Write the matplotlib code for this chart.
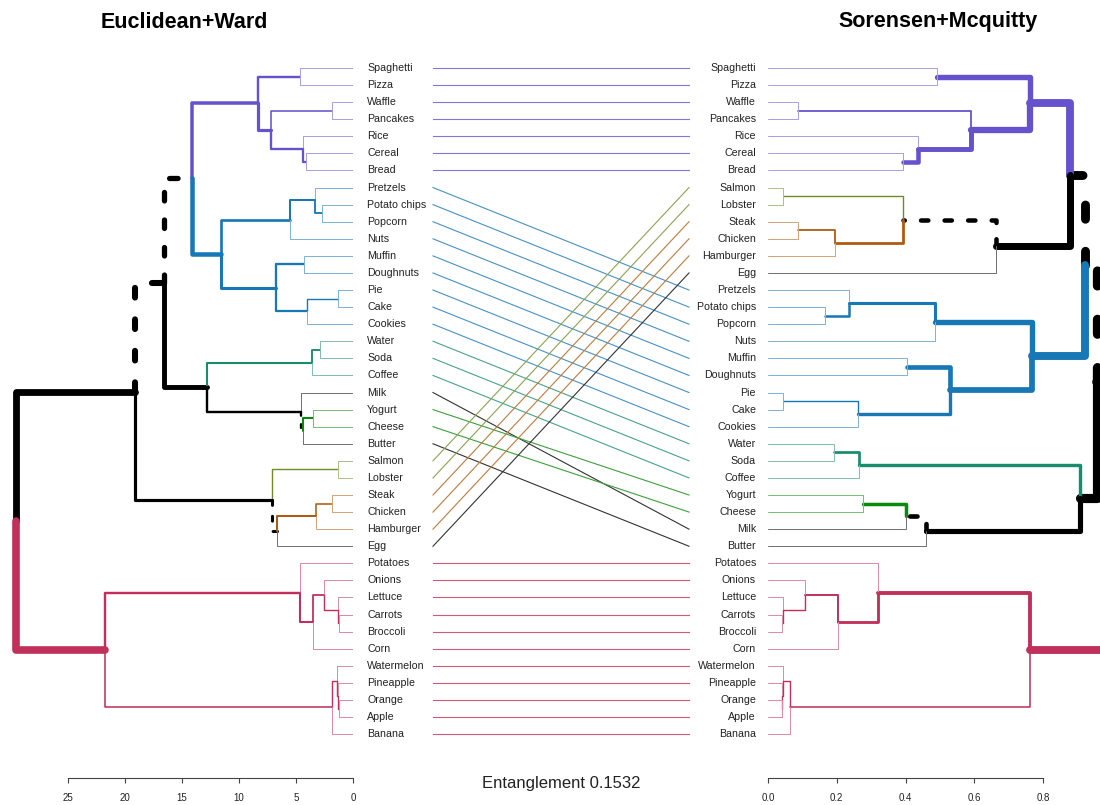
import matplotlib.pyplot as plt
from matplotlib.colors import to_rgb

plt.rcParams['font.family'] = ['Liberation Sans', 'DejaVu Sans']

# common subtrees and their colours
purple = ["Spaghetti", "Pizza", "Waffle", "Pancakes", "Rice", "Cereal", "Bread"]
blue = ["Pretzels", "Potato chips", "Popcorn", "Nuts", "Muffin", "Doughnuts",
        "Pie", "Cake", "Cookies"]
teal = ["Water", "Soda", "Coffee"]
green = ["Yogurt", "Cheese"]
olive = ["Salmon", "Lobster"]
brown = ["Steak", "Chicken", "Hamburger"]
pink = ["Potatoes", "Onions", "Lettuce", "Carrots", "Broccoli", "Corn",
        "Watermelon", "Pineapple", "Orange", "Apple", "Banana"]
cluster_colors = [(purple, '#6652cc'), (blue, '#1877b5'), (teal, '#1a8c6e'),
                  (green, '#0a8a0a'), (olive, '#6e8c28'), (brown, '#ad5b0e'),
                  (pink, '#c0305a')]

# left tree (Euclidean + Ward): (height, child, child)
purple_L = (8.3, (4.65, "Spaghetti", "Pizza"),
            (7.19, (1.87, "Waffle", "Pancakes"), (4.41, "Rice", (4.12, "Cereal", "Bread"))))
blue_L = (11.6, (5.5, (3.36, "Pretzels", (2.72, "Potato chips", "Popcorn")), "Nuts"),
          (6.75, (4.27, "Muffin", "Doughnuts"), (4.06, (1.29, "Pie", "Cake"), "Cookies")))
drink_L = (3.57, (2.9, "Water", "Soda"), "Coffee")
dairy_L = (4.56, "Milk", (4.41, (3.48, "Yogurt", "Cheese"), "Butter"))
meat_L = (7.07, (1.29, "Salmon", "Lobster"),
          (6.7, (3.25, (1.87, "Steak", "Chicken"), "Hamburger"), "Egg"))
veg_L = (4.65, "Potatoes",
         (3.48, (2.54, "Onions", (1.35, "Lettuce", (1.25, "Carrots", "Broccoli"))), "Corn"))
fruit_L = (1.81, (1.36, "Watermelon", (1.28, "Pineapple", (1.2, "Orange", "Apple"))), "Banana")
left_tree = (29.56, (19.1, (16.6, (14.1, purple_L, blue_L), (12.8, drink_L, dairy_L)), meat_L),
             (21.75, veg_L, fruit_L))

# right tree (Sorensen + Mcquitty)
purple_R = (0.761, (0.491, "Spaghetti", "Pizza"),
            (0.589, (0.087, "Waffle", "Pancakes"), (0.436, "Rice", (0.392, "Cereal", "Bread"))))
meat_R = (0.664, (0.392, (0.044, "Salmon", "Lobster"),
                  (0.196, (0.087, "Steak", "Chicken"), "Hamburger")), "Egg")
blue_R = (0.768, (0.486, (0.236, "Pretzels", (0.167, "Potato chips", "Popcorn")), "Nuts"),
          (0.528, (0.405, "Muffin", "Doughnuts"), (0.262, (0.044, "Pie", "Cake"), "Cookies")))
drink_R = (0.264, (0.192, "Water", "Soda"), "Coffee")
dairy_R = (0.46, (0.402, (0.276, "Yogurt", "Cheese"), "Milk"), "Butter")
veg_R = (0.32, "Potatoes",
         (0.204, (0.107, "Onions", (0.045, "Lettuce", (0.04, "Carrots", "Broccoli"))), "Corn"))
fruit_R = (0.063, (0.044, "Watermelon", (0.042, "Pineapple", (0.04, "Orange", "Apple"))), "Banana")
right_tree = (1.0, (0.955, (0.921, (0.877, purple_R, meat_R), blue_R), (0.906, drink_R, dairy_R)),
              (0.761, veg_R, fruit_R))

left_title = "Euclidean+Ward"
right_title = "Sorensen+Mcquitty"
entanglement = 0.1532
left_ticks = [25, 20, 15, 10, 5, 0]
right_ticks = [0.0, 0.2, 0.4, 0.6, 0.8]


def leaves(node):
    if isinstance(node, str):
        return [node]
    return leaves(node[1]) + leaves(node[2])


def all_sets(node):
    s = {frozenset(leaves(node))}
    if not isinstance(node, str):
        s |= all_sets(node[1]) | all_sets(node[2])
    return s


def position(node, order):
    if isinstance(node, str):
        return 0.0, order.index(node)
    ya = position(node[1], order)[1]
    yb = position(node[2], order)[1]
    return node[0], (ya + yb) / 2


def lighten(c, f):
    r, g, b = to_rgb(c)
    return (1 - f * (1 - r), 1 - f * (1 - g), 1 - f * (1 - b))


def leaf_color(name):
    for members, c in cluster_colors:
        if name in members:
            return c
    return 'black'


def draw_tree(ax, tree, other):
    order = leaves(tree)
    other_sets = all_sets(other)
    hmax = tree[0]

    def rec(node):
        if isinstance(node, str):
            return
        hp, yp = position(node, order)
        for child in node[1:]:
            names = leaves(child)
            col = 'black'
            for members, c in cluster_colors:
                if set(names) <= set(members):
                    col = c
            hc, yc = position(child, order)
            is_leaf = isinstance(child, str)
            if is_leaf:
                col = lighten(col, 0.55)
            lw = (1 + 9 * hc / hmax) * 0.72
            # edges whose leaf set is missing from the other tree are dashed
            dashed = (not is_leaf) and frozenset(names) not in other_sets
            ls = (0, (1.6, 3.6)) if dashed else '-'
            if dashed:
                col = 'black'
            ax.plot([hp, hp, hc], [yp, yc, yc], color=col, lw=lw, ls=ls,
                    solid_capstyle='round', dash_capstyle='round',
                    solid_joinstyle='round', dash_joinstyle='round')
            rec(child)

    rec(tree)


W, H = 1100, 805
fig = plt.figure(figsize=(W / 100, H / 100), dpi=100)

top_px, bot_px = 40, 778
leaf0_px, step_px = 68, 17.08
ylim = ((bot_px - leaf0_px) / step_px, -(leaf0_px - top_px) / step_px)
rect_y = 1 - bot_px / H
rect_h = (bot_px - top_px) / H

# left dendrogram
axL = fig.add_axes([0, rect_y, 353 / W, rect_h])
draw_tree(axL, left_tree, right_tree)
axL.set_xlim(353 / 11.4, 0)
axL.set_ylim(*ylim)

# right dendrogram
axR = fig.add_axes([768 / W, rect_y, (W - 768) / W, rect_h])
draw_tree(axR, right_tree, left_tree)
axR.set_xlim(0, (W - 768) / 344)
axR.set_ylim(*ylim)

for ax, ticks, labels in [(axL, left_ticks, [str(t) for t in left_ticks]),
                          (axR, right_ticks, [f"{t:.1f}" for t in right_ticks])]:
    for s in ['top', 'left', 'right']:
        ax.spines[s].set_visible(False)
    ax.spines['bottom'].set_bounds(min(ticks), max(ticks))
    ax.spines['bottom'].set_color('#444444')
    ax.spines['bottom'].set_linewidth(0.8)
    ax.set_yticks([])
    ax.set_xticks(ticks)
    ax.set_xticklabels(labels)
    ax.tick_params(axis='x', direction='out', length=3.6, width=0.8,
                   color='#444444', labelsize=7, pad=7, labelcolor='#222222')
    ax.patch.set_visible(False)

# middle: labels and connecting lines
axM = fig.add_axes([353 / W, rect_y, (768 - 353) / W, rect_h])
axM.set_xlim(353, 768)
axM.set_ylim(*ylim)
axM.axis('off')
left_order = leaves(left_tree)
right_order = leaves(right_tree)
for i, name in enumerate(left_order):
    axM.text(367, i, name, ha='left', va='center', fontsize=7.7, color='#222222')
for i, name in enumerate(right_order):
    axM.text(756, i, name, ha='right', va='center', fontsize=7.7, color='#222222')
for i, name in enumerate(left_order):
    j = right_order.index(name)
    axM.plot([433, 689], [i, j], color=lighten(leaf_color(name), 0.8), lw=0.8)

fig.text(184 / W, 1 - 22 / H, left_title, ha='center', va='center',
         fontsize=15.5, fontweight='bold')
fig.text(938 / W, 1 - 22 / H, right_title, ha='center', va='center',
         fontsize=15.5, fontweight='bold')
fig.text(561 / W, 1 - 783 / H, f"Entanglement {entanglement}", ha='center',
         va='center', fontsize=12, color='#222222')

fig.savefig('out.png', dpi=100)
